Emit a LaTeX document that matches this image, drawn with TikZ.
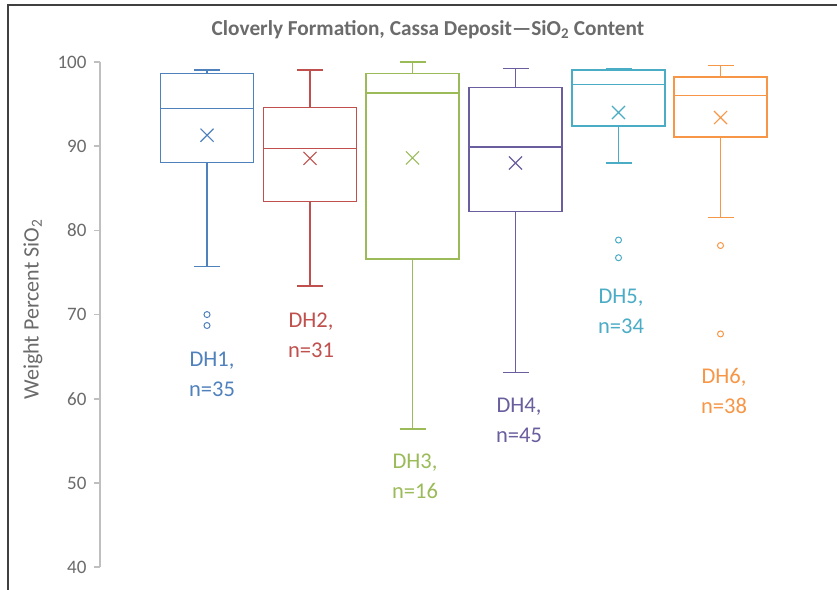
\documentclass[tikz,border=0pt]{standalone}
\usepackage{fontspec}
\setmainfont{Carlito}
\usetikzlibrary{shapes.misc}

\definecolor{dhblue}{HTML}{4F81BD}
\definecolor{dhred}{HTML}{C0504D}
\definecolor{dhgreen}{HTML}{9BBB59}
\definecolor{dhpurple}{HTML}{6A5E9E}
\definecolor{dhteal}{HTML}{4BACC6}
\definecolor{dhorange}{HTML}{F79646}
\definecolor{txtgrey}{HTML}{6B6B6B}
\definecolor{axisgrey}{HTML}{BFBFBF}

\tikzset{
  boxline/.style={line width=1.3pt},
  meanx/.style={shape=cross out,draw,minimum size=12pt,inner sep=0pt,line width=1.1pt},
  outl/.style={shape=circle,draw,minimum size=6pt,inner sep=0pt,line width=1pt},
  dhlabel/.style={align=center,font=\fontsize{22.5}{30}\selectfont},
  ticklabel/.style={anchor=east,text=txtgrey,font=\fontsize{19}{22}\selectfont},
}

\begin{document}
\begin{tikzpicture}[x=1pt,y=8.42pt]
			\fill[white] (0,37.29) rectangle (837,107.36);
			\useasboundingbox (0,37.29) rectangle (837,107.36);
			\draw[line width=2pt,black!75] (8,37.29) -- (8,106.77) -- (837,106.77);
			
			\node[text=txtgrey,font=\bfseries\fontsize{21.3}{24}\selectfont] (title) at (428,103.8) {Cloverly Formation, Cassa Deposit---SiO\textsubscript{2} Content};
			\node[text=txtgrey,rotate=90,font=\fontsize{22}{26}\selectfont] (ylabel) at (33,70.6) {Weight Percent SiO\textsubscript{2}};
			
			% axis
			\draw[axisgrey,line width=1.5pt] (100,40) -- (100,100);
			\foreach \v in {40,50,...,100} {
				\draw[axisgrey,line width=1.5pt] (94,\v) -- (100,\v);
				\node[ticklabel] (t\v) at (90,\v) {\v};
			}
			
			% DH1
			\draw[boxline,dhblue] (160.5,88.1) rectangle (253.5,98.65);
			\draw[boxline,dhblue] (160.5,94.5) -- (253.5,94.5);
			\draw[boxline,dhblue] (207,98.65) -- (207,99.05) (194,99.05) -- (220,99.05);
			\draw[boxline,dhblue] (207,88.1) -- (207,75.7) (194,75.7) -- (220,75.7);
			\node[meanx,dhblue] (m1) at (207,91.3) {};
			\node[outl,dhblue] (o1a) at (207,70.0) {};
			\node[outl,dhblue] (o1b) at (207,68.7) {};
			\node[dhlabel,text=dhblue] (l1) at (212,62.95) {DH1,\\n=35};
			
			% DH2
			\draw[boxline,dhred] (263.5,83.4) rectangle (356.5,94.6);
			\draw[boxline,dhred] (263.5,89.75) -- (356.5,89.75);
			\draw[boxline,dhred] (310,94.6) -- (310,99.05) (297,99.05) -- (323,99.05);
			\draw[boxline,dhred] (310,83.4) -- (310,73.4) (297,73.4) -- (323,73.4);
			\node[meanx,dhred] (m2) at (310,88.55) {};
			\node[dhlabel,text=dhred] (l2) at (311,67.52) {DH2,\\n=31};
			
			% DH3
			\draw[boxline,dhgreen] (366,76.6) rectangle (459,98.65);
			\draw[boxline,dhgreen] (366,96.3) -- (459,96.3);
			\draw[boxline,dhgreen] (412.5,98.65) -- (412.5,100) (399.5,100) -- (425.5,100);
			\draw[boxline,dhgreen] (412.5,76.6) -- (412.5,56.4) (399.5,56.4) -- (425.5,56.4);
			\node[meanx,dhgreen] (m3) at (412.5,88.6) {};
			\node[dhlabel,text=dhgreen] (l3) at (415,50.77) {DH3,\\n=16};
			
			% DH4
			\draw[boxline,dhpurple] (469,82.2) rectangle (562,97.0);
			\draw[boxline,dhpurple] (469,89.9) -- (562,89.9);
			\draw[boxline,dhpurple] (515.5,97.0) -- (515.5,99.2) (502.5,99.2) -- (528.5,99.2);
			\draw[boxline,dhpurple] (515.5,82.2) -- (515.5,63.1) (502.5,63.1) -- (528.5,63.1);
			\node[meanx,dhpurple] (m4) at (515.5,88.0) {};
			\node[dhlabel,text=dhpurple] (l4) at (519,57.48) {DH4,\\n=45};
			
			% DH5
			\draw[boxline,dhteal] (572,92.4) rectangle (665,99.05);
			\draw[boxline,dhteal] (572,97.3) -- (665,97.3);
			\draw[boxline,dhteal] (605.5,99.2) -- (631.5,99.2);
			\draw[boxline,dhteal] (618.5,92.4) -- (618.5,88.0) (605.5,88.0) -- (631.5,88.0);
			\node[meanx,dhteal] (m5) at (618.5,94.0) {};
			\node[outl,dhteal] (o5a) at (618.5,78.85) {};
			\node[outl,dhteal] (o5b) at (618.5,76.75) {};
			\node[dhlabel,text=dhteal] (l5) at (621,70.43) {DH5,\\n=34};
			
			% DH6
			\draw[boxline,dhorange] (674,91.1) rectangle (767,98.2);
			\draw[boxline,dhorange] (674,96.0) -- (767,96.0);
			\draw[boxline,dhorange] (720.5,98.2) -- (720.5,99.6) (707.5,99.6) -- (733.5,99.6);
			\draw[boxline,dhorange] (720.5,91.1) -- (720.5,81.5) (707.5,81.5) -- (733.5,81.5);
			\node[meanx,dhorange] (m6) at (720.5,93.4) {};
			\node[outl,dhorange] (o6a) at (720.5,78.2) {};
			\node[outl,dhorange] (o6b) at (720.5,67.7) {};
			\node[dhlabel,text=dhorange] (l6) at (724,60.93) {DH6,\\n=38};
		\end{tikzpicture}
\end{document}
